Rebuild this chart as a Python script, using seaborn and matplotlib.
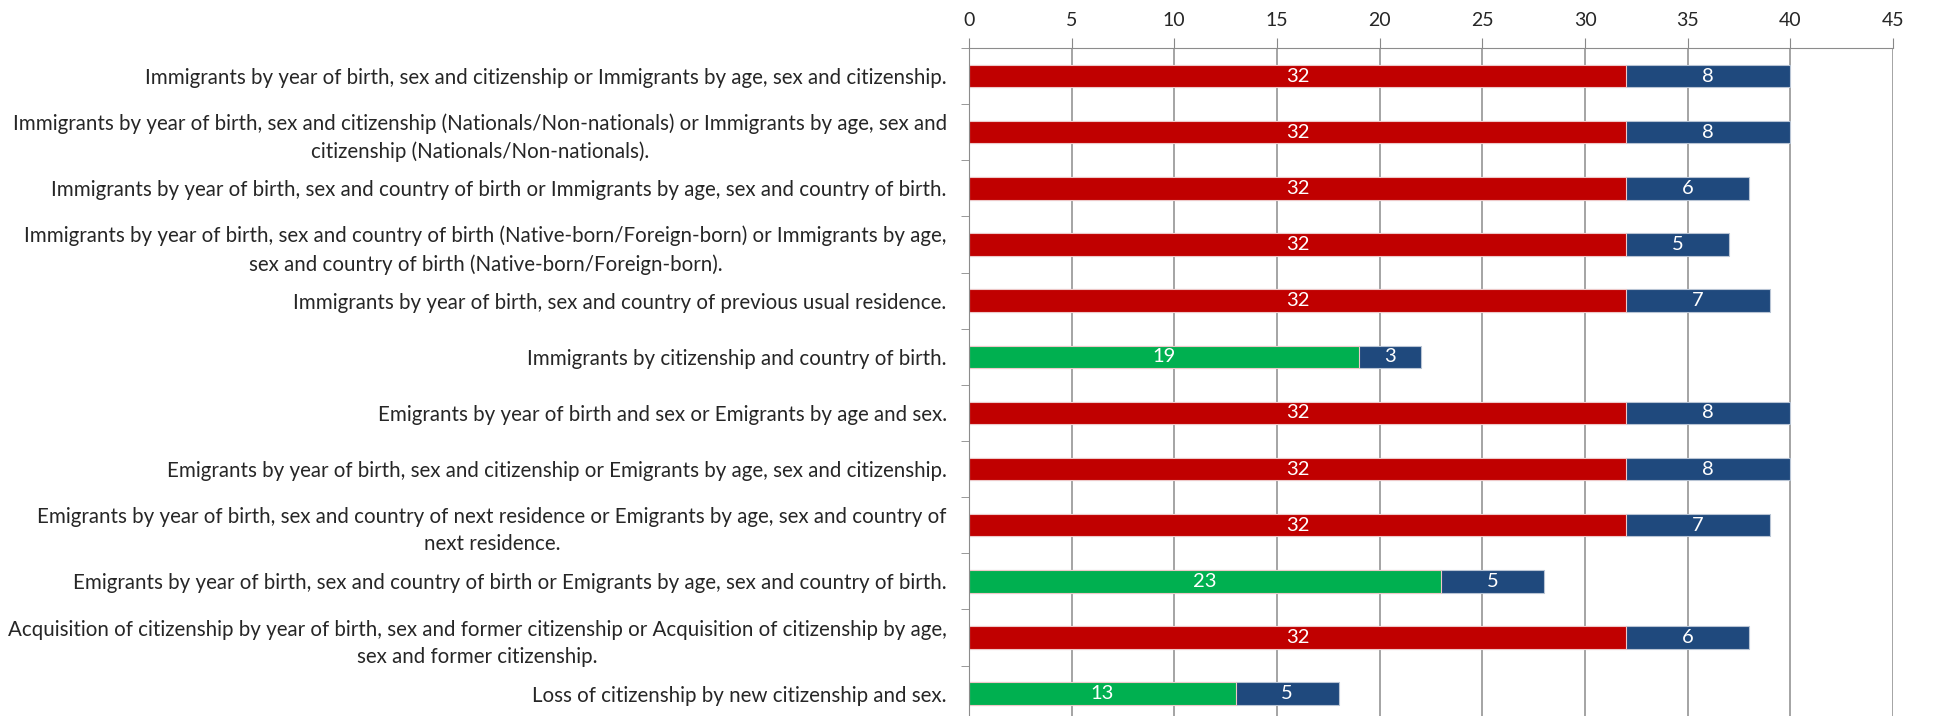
import numpy as np
import pandas as pd
import matplotlib
matplotlib.use("Agg")
import matplotlib.pyplot as plt
import seaborn as sns

# chart data
categories = [
    "Immigrants by year of birth, sex and citizenship or Immigrants by age, sex and citizenship.",
    "Immigrants by year of birth, sex and citizenship (Nationals/Non-nationals) or Immigrants by age, sex and\ncitizenship (Nationals/Non-nationals).",
    "Immigrants by year of birth, sex and country of birth or Immigrants by age, sex and country of birth.",
    "Immigrants by year of birth, sex and country of birth (Native-born/Foreign-born) or Immigrants by age,\nsex and country of birth (Native-born/Foreign-born).",
    "Immigrants by year of birth, sex and country of previous usual residence.",
    "Immigrants by citizenship and country of birth.",
    "Emigrants by year of birth and sex or Emigrants by age and sex.",
    "Emigrants by year of birth, sex and citizenship or Emigrants by age, sex and citizenship.",
    "Emigrants by year of birth, sex and country of next residence or Emigrants by age, sex and country of\nnext residence.",
    "Emigrants by year of birth, sex and country of birth or Emigrants by age, sex and country of birth.",
    "Acquisition of citizenship by year of birth, sex and former citizenship or Acquisition of citizenship by age,\nsex and former citizenship.",
    "Loss of citizenship by new citizenship and sex.",
]
first_values = [32, 32, 32, 32, 32, 19, 32, 32, 32, 23, 32, 13]
second_values = [8, 8, 6, 5, 7, 3, 8, 8, 7, 5, 6, 5]
is_green = [False, False, False, False, False, True, False, False, False, True, False, True]
x_ticks = [0, 5, 10, 15, 20, 25, 30, 35, 40, 45]

RED = "#C00000"
GREEN = "#00B050"
BLUE = "#1F497D"

df = pd.DataFrame({
    "category": categories,
    "first": first_values,
    "second": second_values,
    "total": np.array(first_values) + np.array(second_values),
})
first_colors = {c: (GREEN if g else RED) for c, g in zip(categories, is_green)}

sns.set_style("white")
plt.rcParams["font.family"] = ["Lato", "DejaVu Sans"]

fig = plt.figure(figsize=(19.39, 7.16), dpi=100)
ax = fig.add_axes([0.4997, -0.008, 0.9763 - 0.4997, 0.941])

# blue stacked part drawn as total, first segment drawn over it
sns.barplot(data=df, y="category", x="total", color=BLUE, saturation=1,
            width=0.4, edgecolor="#b8c4d4", linewidth=0.8, ax=ax, orient="h")
sns.barplot(data=df, y="category", x="first", hue="category", palette=first_colors,
            saturation=1, width=0.4, edgecolor="#eec8c8", linewidth=0.8,
            legend=False, ax=ax, orient="h")

# segment labels
for i, (f, s) in enumerate(zip(first_values, second_values)):
    ax.text(f / 2, i, str(f), ha="center", va="center", color="white", fontsize=14.5)
    ax.text(f + s / 2, i, str(s), ha="center", va="center", color="white", fontsize=14.5)

ax.set_xlim(0, 45)
ax.set_ylim(len(categories) - 0.5, -0.5)
ax.set_xticks(x_ticks)
ax.xaxis.tick_top()
ax.tick_params(axis="x", which="both", top=True, length=7, color="#888888",
               labelsize=14, pad=7, direction="out")
ax.grid(axis="x", color="#8c8c8c", linewidth=1.1)
ax.set_axisbelow(True)

ax.set_yticks(np.arange(len(categories) + 1) - 0.5, minor=True)
ax.set_yticks(np.arange(len(categories)))
ax.set_yticklabels(categories, fontsize=14.8, multialignment="center", linespacing=1.45)
ax.tick_params(axis="y", which="major", length=0, pad=16)
ax.tick_params(axis="y", which="minor", length=6, color="#888888", left=True)

for side in ["right", "bottom"]:
    ax.spines[side].set_visible(False)
ax.spines["top"].set_color("#8c8c8c")
ax.spines["left"].set_color("#8c8c8c")
ax.set_xlabel("")
ax.set_ylabel("")

fig.savefig("out.png", dpi=100)
